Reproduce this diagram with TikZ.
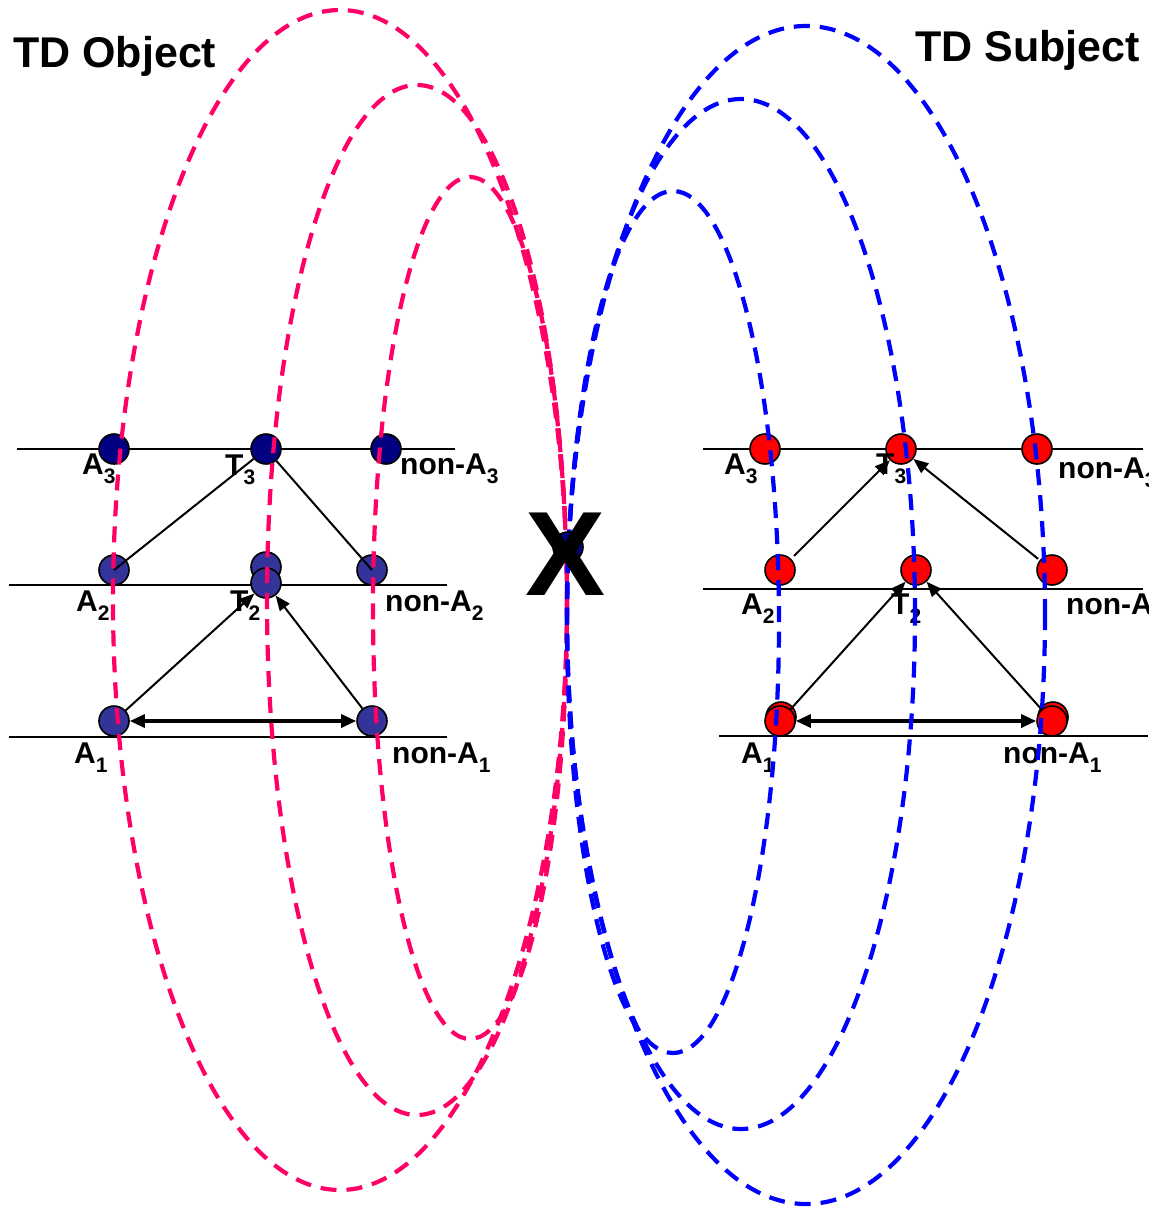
\documentclass[tikz,border=0pt]{standalone}
\usepackage{fontspec}
\setmainfont{Liberation Sans}
\usetikzlibrary{arrows.meta}
\definecolor{pinkc}{HTML}{FF0066}
\definecolor{bluec}{HTML}{0000FF}
\definecolor{navyc}{HTML}{000080}
\definecolor{slatec}{HTML}{333399}
\definecolor{redc}{HTML}{FF0000}
\newcommand\lb[2]{#1\raisebox{-9pt}{\fontsize{21}{21}\selectfont #2}}
\begin{document}
\begin{tikzpicture}[x=1pt,y=-1pt,
  dot/.style={circle,draw=black,line width=1.6pt,minimum size=30pt,inner sep=0pt},
  ndot/.style={dot,fill=navyc},
  sdot/.style={dot,fill=slatec},
  rdot/.style={dot,fill=redc},
  lbl/.style={anchor=base west,inner sep=0pt,font=\fontsize{30}{32}\selectfont\bfseries},
  ttl/.style={anchor=base west,inner sep=0pt,font=\fontsize{43}{45}\selectfont\bfseries},
  rule/.style={line width=2.2pt,black},
  conn/.style={line width=2pt},
  arr/.style={line width=2pt,-{Triangle[length=15pt,width=12pt]}},
  darr/.style={line width=3.2pt,{Triangle[length=15pt,width=13pt]}-{Triangle[length=15pt,width=13pt]}},
  pdash/.style={pinkc,line width=4.2pt,dash pattern=on 16pt off 10pt},
  bdash/.style={bluec,line width=4.2pt,dash pattern=on 16pt off 10pt}]
\useasboundingbox (0,0) rectangle (1148,1209);

% titles
\node[ttl] (tobj) at (13,68) {TD Object};
\node[ttl] (tsub) at (915,62) {TD Subject};

% horizontal rules
\coordinate (l3a) at (17,449);  \coordinate (l3b) at (455,449);
\coordinate (l2a) at (9,585);   \coordinate (l2b) at (447,585);
\coordinate (l1a) at (9,737);   \coordinate (l1b) at (447,737);
\coordinate (r3a) at (703,449); \coordinate (r3b) at (1143,449);
\coordinate (r2a) at (703,589); \coordinate (r2b) at (1143,589);
\coordinate (r1a) at (719,736); \coordinate (r1b) at (1148,736);
\draw[rule] (l3a) -- (l3b);
\draw[rule] (l2a) -- (l2b);
\draw[rule] (l1a) -- (l1b);
\draw[rule] (r3a) -- (r3b);
\draw[rule] (r2a) -- (r2b);
\draw[rule] (r1a) -- (r1b);

% left nodes
\node[ndot] (lA3) at (114,449) {};
\node[ndot] (lT3) at (266,449) {};
\node[ndot] (lnA3) at (386,449) {};
\node[sdot] (lA2) at (114,570) {};
\node[sdot] (lT2) at (266,567) {};
\node[sdot] (lT2b) at (266,583) {};
\node[sdot] (lnA2) at (372,570) {};
\node[sdot] (lA1) at (114,721) {};
\node[sdot] (lnA1) at (372,721) {};

% right nodes
\node[rdot] (rA3) at (765,449) {};
\node[rdot] (rT3) at (901,449) {};
\node[rdot] (rnA3) at (1037,449) {};
\node[rdot] (rA2) at (780,570) {};
\node[rdot] (rT2) at (916,570) {};
\node[rdot] (rnA2) at (1052,570) {};
\node[rdot] (rA1b) at (781,717) {};
\node[rdot] (rA1) at (780,721) {};
\node[rdot] (rnA1b) at (1053,717) {};
\node[rdot] (rnA1) at (1052,721) {};

% left labels
\node[lbl] (tA3) at (82,474) {\lb{A}{3}};
\node[lbl] (tT3) at (225,475) {\lb{T}{3}};
\node[lbl] (tnA3) at (400,474) {\lb{non-A}{3}};
\node[lbl] (tA2) at (76,611) {\lb{A}{2}};
\node[lbl] (tT2) at (230,611) {\lb{T}{2}};
\node[lbl] (tnA2) at (385,611) {\lb{non-A}{2}};
\node[lbl] (tA1) at (74,763) {\lb{A}{1}};
\node[lbl] (tnA1) at (392,763) {\lb{non-A}{1}};

% right labels
\node[lbl] (uA3) at (724,474) {\lb{A}{3}};
\node[lbl] (uT3) at (876,474) {\lb{T}{3}};
\node[lbl] (unA3) at (1058,478) {\lb{non-A}{3}};
\node[lbl] (uA2) at (741,614) {\lb{A}{2}};
\node[lbl] (uT2) at (891,614) {\lb{T}{2}};
\node[lbl] (unA2) at (1066,614) {\lb{non-A}{2}};
\node[lbl] (uA1) at (741,763) {\lb{A}{1}};
\node[lbl] (unA1) at (1003,763) {\lb{non-A}{1}};

% left connectors
\draw[conn] (lT3) -- (lA2.center);
\draw[conn] (lT3) -- (lnA2.center);
\draw[arr] (lA1) -- (lT2b);
\draw[arr] (lnA1) -- (lT2b);
\draw[darr] (lA1) -- (lnA1);

% right connectors
\draw[arr,shorten <=4pt] (rA2) -- (rT3);
\draw[arr,shorten <=2pt] (rnA2) -- (rT3);
\draw[arr] (rA1) -- (rT2);
\draw[arr] (rnA1) -- (rT2);
\draw[darr] (rA1) -- (rnA1);

% loops
\draw[pdash] (340,600) ellipse [x radius=227pt, y radius=590pt];
\draw[pdash] (417,600) ellipse [x radius=150pt, y radius=515pt];
\draw[pdash] (470,608) ellipse [x radius=97pt, y radius=431pt];
\draw[bdash] (806,615) ellipse [x radius=239pt, y radius=589pt];
\draw[bdash] (741,614) ellipse [x radius=174pt, y radius=515pt];
\draw[bdash] (673,622) ellipse [x radius=106pt, y radius=431pt];

% crossing point
\node[dot,fill=navyc] (xc) at (568,547) {};
\node[inner sep=0pt,font=\fontsize{120}{122}\selectfont\bfseries] (xm) at (566,554) {X};
\end{tikzpicture}
\end{document}
